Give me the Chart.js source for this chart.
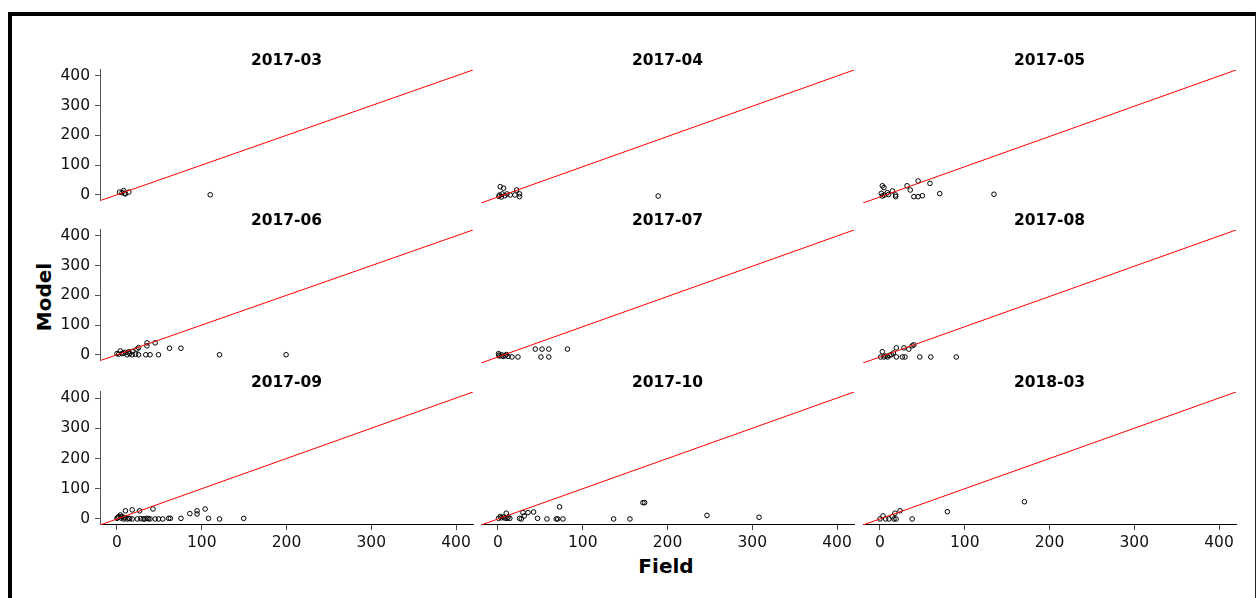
<!DOCTYPE html>
<html>
<head>
<meta charset="utf-8">
<script src="https://cdn.jsdelivr.net/npm/chart.js@4.4.1/dist/chart.umd.min.js"></script>
<style>
  html, body { margin: 0; padding: 0; background: #fff; width: 1258px; height: 598px; overflow: hidden; }
  #frame { position: absolute; left: 8px; top: 12px; width: 1243px; height: 620px;
           border-top: 4px solid #000; border-left: 4px solid #000; border-right: 1px solid #222; }
  canvas { position: absolute; }
  .axis-title { position: absolute; font-family: "DejaVu Sans", sans-serif; font-weight: bold;
                font-size: 20px; line-height: 1; color: #000; white-space: nowrap; }
  #ylab { left: 43.5px; top: 296.5px; transform: translate(-50%, -50%) rotate(-90deg); }
  #xlab { left: 666px; top: 566px; transform: translate(-50%, -50%); }
</style>
</head>
<body>
<div id="frame"></div>
<div class="axis-title" id="ylab">Model</div>
<div class="axis-title" id="xlab">Field</div>
<script>
// Facet labels (one panel per sampling month)
const PANELS = ['2017-03', '2017-04', '2017-05', '2017-06', '2017-07', '2017-08', '2017-09', '2017-10', '2018-03'];

// Shared axis settings
const AXIS_TICKS = [0, 100, 200, 300, 400];
const AXIS_LIMITS = [-20, 420];

// Field vs model values per month
const field_2017_03 = [3, 6, 8, 10, 14, 9, 110];
const model_2017_03 = [9, 7, 14, 3, 9, 5, 0];

const field_2017_04 = [2.7, 6.6, 2, 5, 10.6, 14.5, 20, 22, 25.5, 25.5, 189, 1, 8, 4];
const model_2017_04 = [34, 29, 6.6, 10, 10, 6.6, 6.6, 23, 10, 1, 3, 2, 4, 0];

const field_2017_05 = [2.8, 4.7, 1.6, 2.8, 8.7, 14.6, 18.5, 18.5, 32, 35.7, 45, 40, 45, 50, 59, 70.5, 134.5, 5, 10];
const model_2017_05 = [37, 31, 12, 3, 14, 20, 6.6, 1, 37, 23, 53, 1, 1, 4, 45, 11, 9, 6, 8];

const field_2017_06 = [4, 0, 6, 10, 12, 18, 18, 23.6, 25.5, 25.5, 35.4, 35.4, 34, 39, 45, 49, 62, 75.5, 121, 199.5, 2, 8, 15, 14, 22];
const model_2017_06 = [13, 4, 4, 8, 0, 11, 0, 19, 24, 0, 40, 30, 0, 0, 40, 0, 22, 22, 0, 0, 2, 6, 4, 10, 2];

const field_2017_07 = [0.7, 4.7, 8.6, 12, 16.5, 23.6, 44, 52, 60, 50.7, 60, 82, 2, 6, 10, 1];
const model_2017_07 = [11, 6.6, 4, 2, 0, 0, 26, 26, 26, 0, 0, 26, 3, 2, 8, 6];

const field_2017_08 = [2.8, 0.8, 4.7, 9, 13.4, 15.8, 19.3, 19.3, 26.4, 28.3, 29.5, 34, 38, 40, 47, 60, 90, 7, 11];
const model_2017_08 = [17.5, 0, 0, 0, 7.6, 13, 30, 0, 0, 30, 0, 26, 37, 40, 0, 0, 0, 3, 5];

const field_2017_09 = [0, 2, 4, 6, 8, 10, 12, 14, 18, 18, 24, 26.7, 31, 35.4, 39, 42.5, 45, 49, 54, 61, 63, 75.5, 86, 94.5, 94.5, 104, 108, 121, 149.5, 1, 5, 9, 15, 28, 33, 37];
const model_2017_09 = [2, 8, 13, 8, 0, 27, 0, 2, 30, 0, 0, 27, 0, 2, 0, 33, 0, 0, 0, 2, 2, 2, 17.6, 27, 16.5, 33, 2, 0, 2, 5, 3, 4, 1, 1, 0, 1];

const field_2017_10 = [0.7, 2.7, 6.6, 9.8, 10.6, 14, 25.5, 27.5, 29.5, 31, 35.4, 42, 46.7, 57.8, 68.8, 70.5, 72.7, 76.7, 136.4, 155.7, 171, 173, 246.6, 308, 4, 8, 12];
const model_2017_10 = [2, 8, 6.6, 19, 2, 2, 2, 0, 21, 10, 21, 23, 2, 0, 0, 0, 40, 0, 0, 0, 54, 54, 12, 5.6, 4, 3, 6];

const field_2018_03 = [0, 3.6, 6.7, 10.6, 14.6, 16.5, 17.7, 19, 23.6, 38, 79.5, 170.4];
const model_2018_03 = [0, 10, 0, 0, 7.6, 0, 19, 0, 27, 0, 24, 57];

const FIELD = [field_2017_03, field_2017_04, field_2017_05, field_2017_06, field_2017_07, field_2017_08, field_2017_09, field_2017_10, field_2018_03];
const MODEL = [model_2017_03, model_2017_04, model_2017_05, model_2017_06, model_2017_07, model_2017_08, model_2017_09, model_2017_10, model_2018_03];

// Facet grid geometry (plot areas)
const COL_LEFT = [100, 481, 862.5];
const ROW_TOP = [70, 230, 392];
const PLOT_W = 373, PLOT_H = 133;
const TITLE_H = 25, Y_AXIS_W = 86, X_AXIS_H = 40, PAD_B = 12, PAD_R = 4;
const FONT = '"DejaVu Sans", sans-serif';

function fixedTicks(scale) {
  scale.ticks = AXIS_TICKS.map(v => ({ value: v }));
}

PANELS.forEach((name, i) => {
  const col = i % 3, row = Math.floor(i / 3);
  const showY = col === 0, showX = row === 2;
  const axisW = showY ? Y_AXIS_W : 0;
  const bottomH = showX ? X_AXIS_H : PAD_B;

  const canvas = document.createElement('canvas');
  const w = axisW + PLOT_W + PAD_R;
  const h = TITLE_H + PLOT_H + bottomH;
  canvas.width = w; canvas.height = h;
  canvas.style.width = w + 'px'; canvas.style.height = h + 'px';
  canvas.style.left = (COL_LEFT[col] - axisW) + 'px';
  canvas.style.top = (ROW_TOP[row] - TITLE_H) + 'px';
  document.body.appendChild(canvas);

  const points = FIELD[i].map((x, k) => ({ x: x, y: MODEL[i][k] }));

  new Chart(canvas, {
    type: 'scatter',
    data: {
      datasets: [
        {
          type: 'line',
          data: AXIS_LIMITS.map(v => ({ x: v, y: v })),
          borderColor: '#ff0000',
          borderWidth: 1,
          pointRadius: 0,
          fill: false,
          order: 0
        },
        {
          data: points,
          pointStyle: 'circle',
          pointRadius: 2.3,
          borderWidth: 1,
          borderColor: '#000',
          backgroundColor: 'rgba(0,0,0,0)',
          order: 1
        }
      ]
    },
    options: {
      responsive: false,
      devicePixelRatio: 1,
      animation: false,
      events: [],
      layout: { autoPadding: false, padding: { left: 0, top: 0, right: PAD_R, bottom: showX ? 0 : PAD_B } },
      plugins: {
        legend: { display: false },
        tooltip: { enabled: false },
        title: {
          display: true,
          text: name,
          fullSize: false,
          color: '#000',
          font: { family: FONT, size: 15.5, weight: 'bold', lineHeight: 1.16 },
          padding: { top: 7, bottom: 0 }
        }
      },
      scales: {
        x: {
          type: 'linear',
          display: showX,
          min: AXIS_LIMITS[0],
          max: AXIS_LIMITS[1],
          afterBuildTicks: fixedTicks,
          afterFit: s => { if (showX) s.height = X_AXIS_H; },
          grid: { display: true, drawOnChartArea: false, drawTicks: true, tickLength: 5, color: '#444' },
          border: { display: true, color: '#000', width: 1 },
          ticks: { color: '#111', font: { family: FONT, size: 15.5 }, padding: 4, maxRotation: 0 }
        },
        y: {
          type: 'linear',
          display: showY,
          min: AXIS_LIMITS[0],
          max: AXIS_LIMITS[1],
          afterBuildTicks: fixedTicks,
          afterFit: s => { if (showY) s.width = Y_AXIS_W; },
          grid: { display: true, drawOnChartArea: false, drawTicks: true, tickLength: 5, color: '#555' },
          border: { display: true, color: '#555', width: 1 },
          ticks: { color: '#111', font: { family: FONT, size: 15.5 }, padding: 5 }
        }
      }
    }
  });
});
</script>
</body>
</html>
